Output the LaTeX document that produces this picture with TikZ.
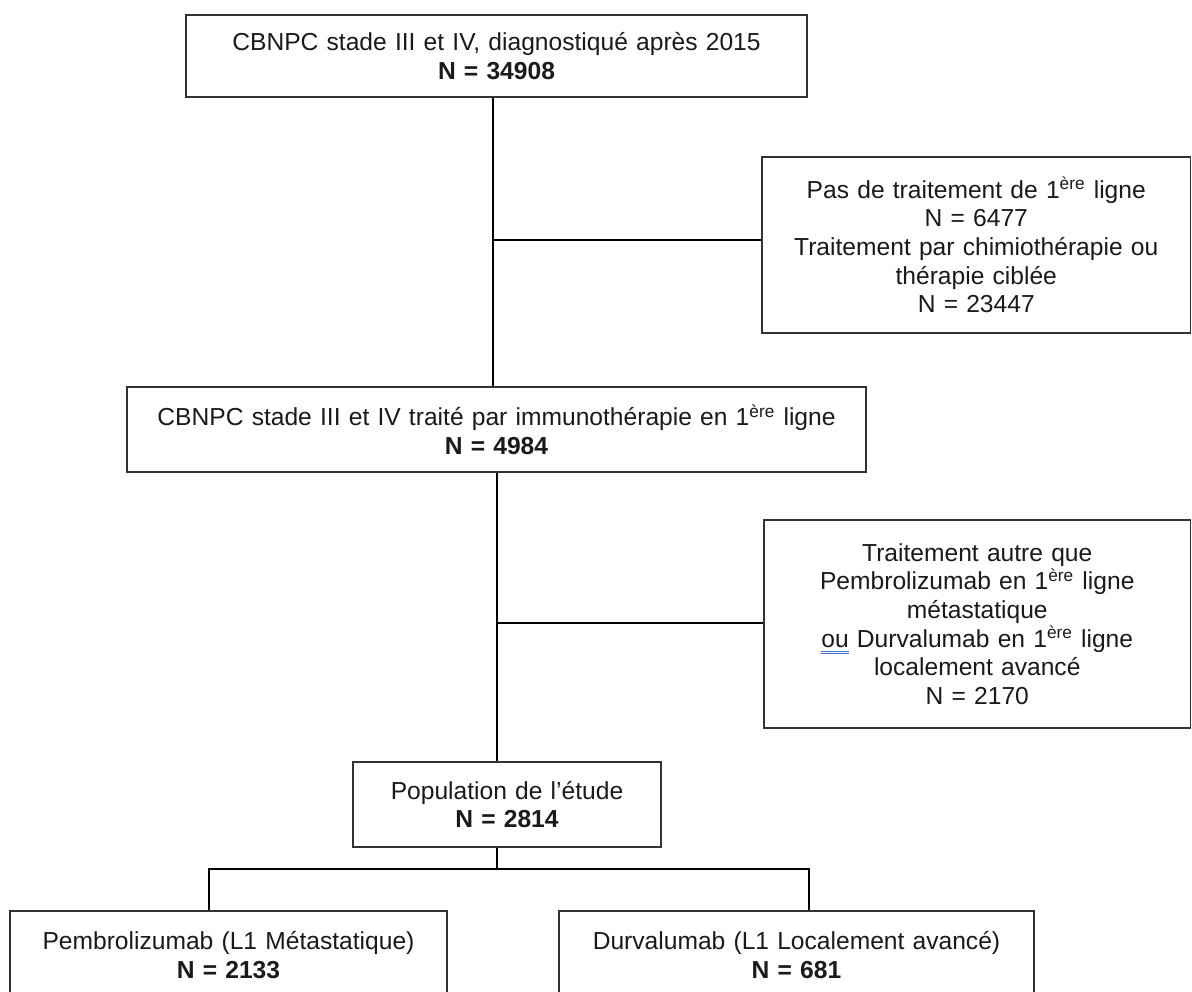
\documentclass[tikz,border=0pt]{standalone}
\usepackage{fontspec}
\setmainfont{Liberation Sans}
\definecolor{txt}{HTML}{1A1A1A}
\definecolor{bord}{HTML}{333333}
\definecolor{ulblue}{HTML}{3C6FD8}
\newcommand\supx[1]{\textsuperscript{#1}}
\newcommand\dblu[1]{\leavevmode\setbox0=\hbox{#1}\rlap{\color{ulblue}\rule[-2.2pt]{\wd0}{0.45pt}}\rlap{\color{ulblue}\rule[-3.4pt]{\wd0}{0.45pt}}\box0\relax}
\tikzset{
  boxnode/.style={draw=bord, line width=0.6pt, inner sep=0pt, align=center,
    text=txt, font=\fontsize{12.3}{14.3}\selectfont},
  conn/.style={draw=black, line width=1pt, line join=miter}
}
\begin{document}
\begin{tikzpicture}[x=0.5pt,y=-0.5pt]
\useasboundingbox (0,0) rectangle (1192,991);
\clip (0,0) rectangle (1192,991);
\fill[white] (0,0) rectangle (1192,991);

\node[boxnode, minimum width=310.5pt, minimum height=41pt, text width=305pt] (top) at (496.5,56)
  {CBNPC stade III et IV, diagnostiqué après 2015\\ \textbf{N = 34908}};
\node[boxnode, minimum width=214.25pt, minimum height=88pt, text width=210pt] (r1) at (976.25,245)
  {Pas de traitement de 1\supx{ère} ligne\\ N = 6477\\ Traitement par chimiothérapie ou\\ thérapie ciblée\\ N = 23447};
\node[boxnode, minimum width=369.5pt, minimum height=42.5pt, text width=365pt] (b2) at (496.5,429.5)
  {CBNPC stade III et IV traité par immunothérapie en 1\supx{ère} ligne\\ \textbf{N = 4984}};
\node[boxnode, minimum width=213.25pt, minimum height=104pt, text width=208pt] (r2) at (977.25,624)
  {Traitement autre que\\ Pembrolizumab en 1\supx{ère} ligne\\ métastatique\\ \dblu{ou} Durvalumab en 1\supx{ère} ligne\\ localement avancé\\ N = 2170};
\node[boxnode, minimum width=154pt, minimum height=42.5pt, text width=150pt] (pop) at (507,804.5)
  {Population de l’étude\\ \textbf{N = 2814}};
\node[boxnode, minimum width=218.5pt, minimum height=44pt, text width=214pt] (lb) at (228.5,955)
  {Pembrolizumab (L1 Métastatique)\\ \textbf{N = 2133}};
\node[boxnode, minimum width=237.5pt, minimum height=44pt, text width=233pt] (rb) at (796.5,955)
  {Durvalumab (L1 Localement avancé)\\ \textbf{N = 681}};

\coordinate (c1) at (493,0);
\coordinate (c2) at (497,0);
\coordinate (cl) at (209,0);
\coordinate (cr) at (809,0);
\coordinate (h1) at (0,240);
\coordinate (h2) at (0,623);
\coordinate (h3) at (0,869);

\draw[conn] (top.south -| c1) -- (b2.north -| c1);
\draw[conn] (c1 |- h1) -- (r1.west |- h1);
\draw[conn] (b2.south -| c2) -- (pop.north -| c2);
\draw[conn] (c2 |- h2) -- (r2.west |- h2);
\draw[conn] (pop.south -| c2) -- (c2 |- h3);
\draw[conn] (lb.north -| cl) |- (h3 -| cr) -- (rb.north -| cr);
\end{tikzpicture}
\end{document}
